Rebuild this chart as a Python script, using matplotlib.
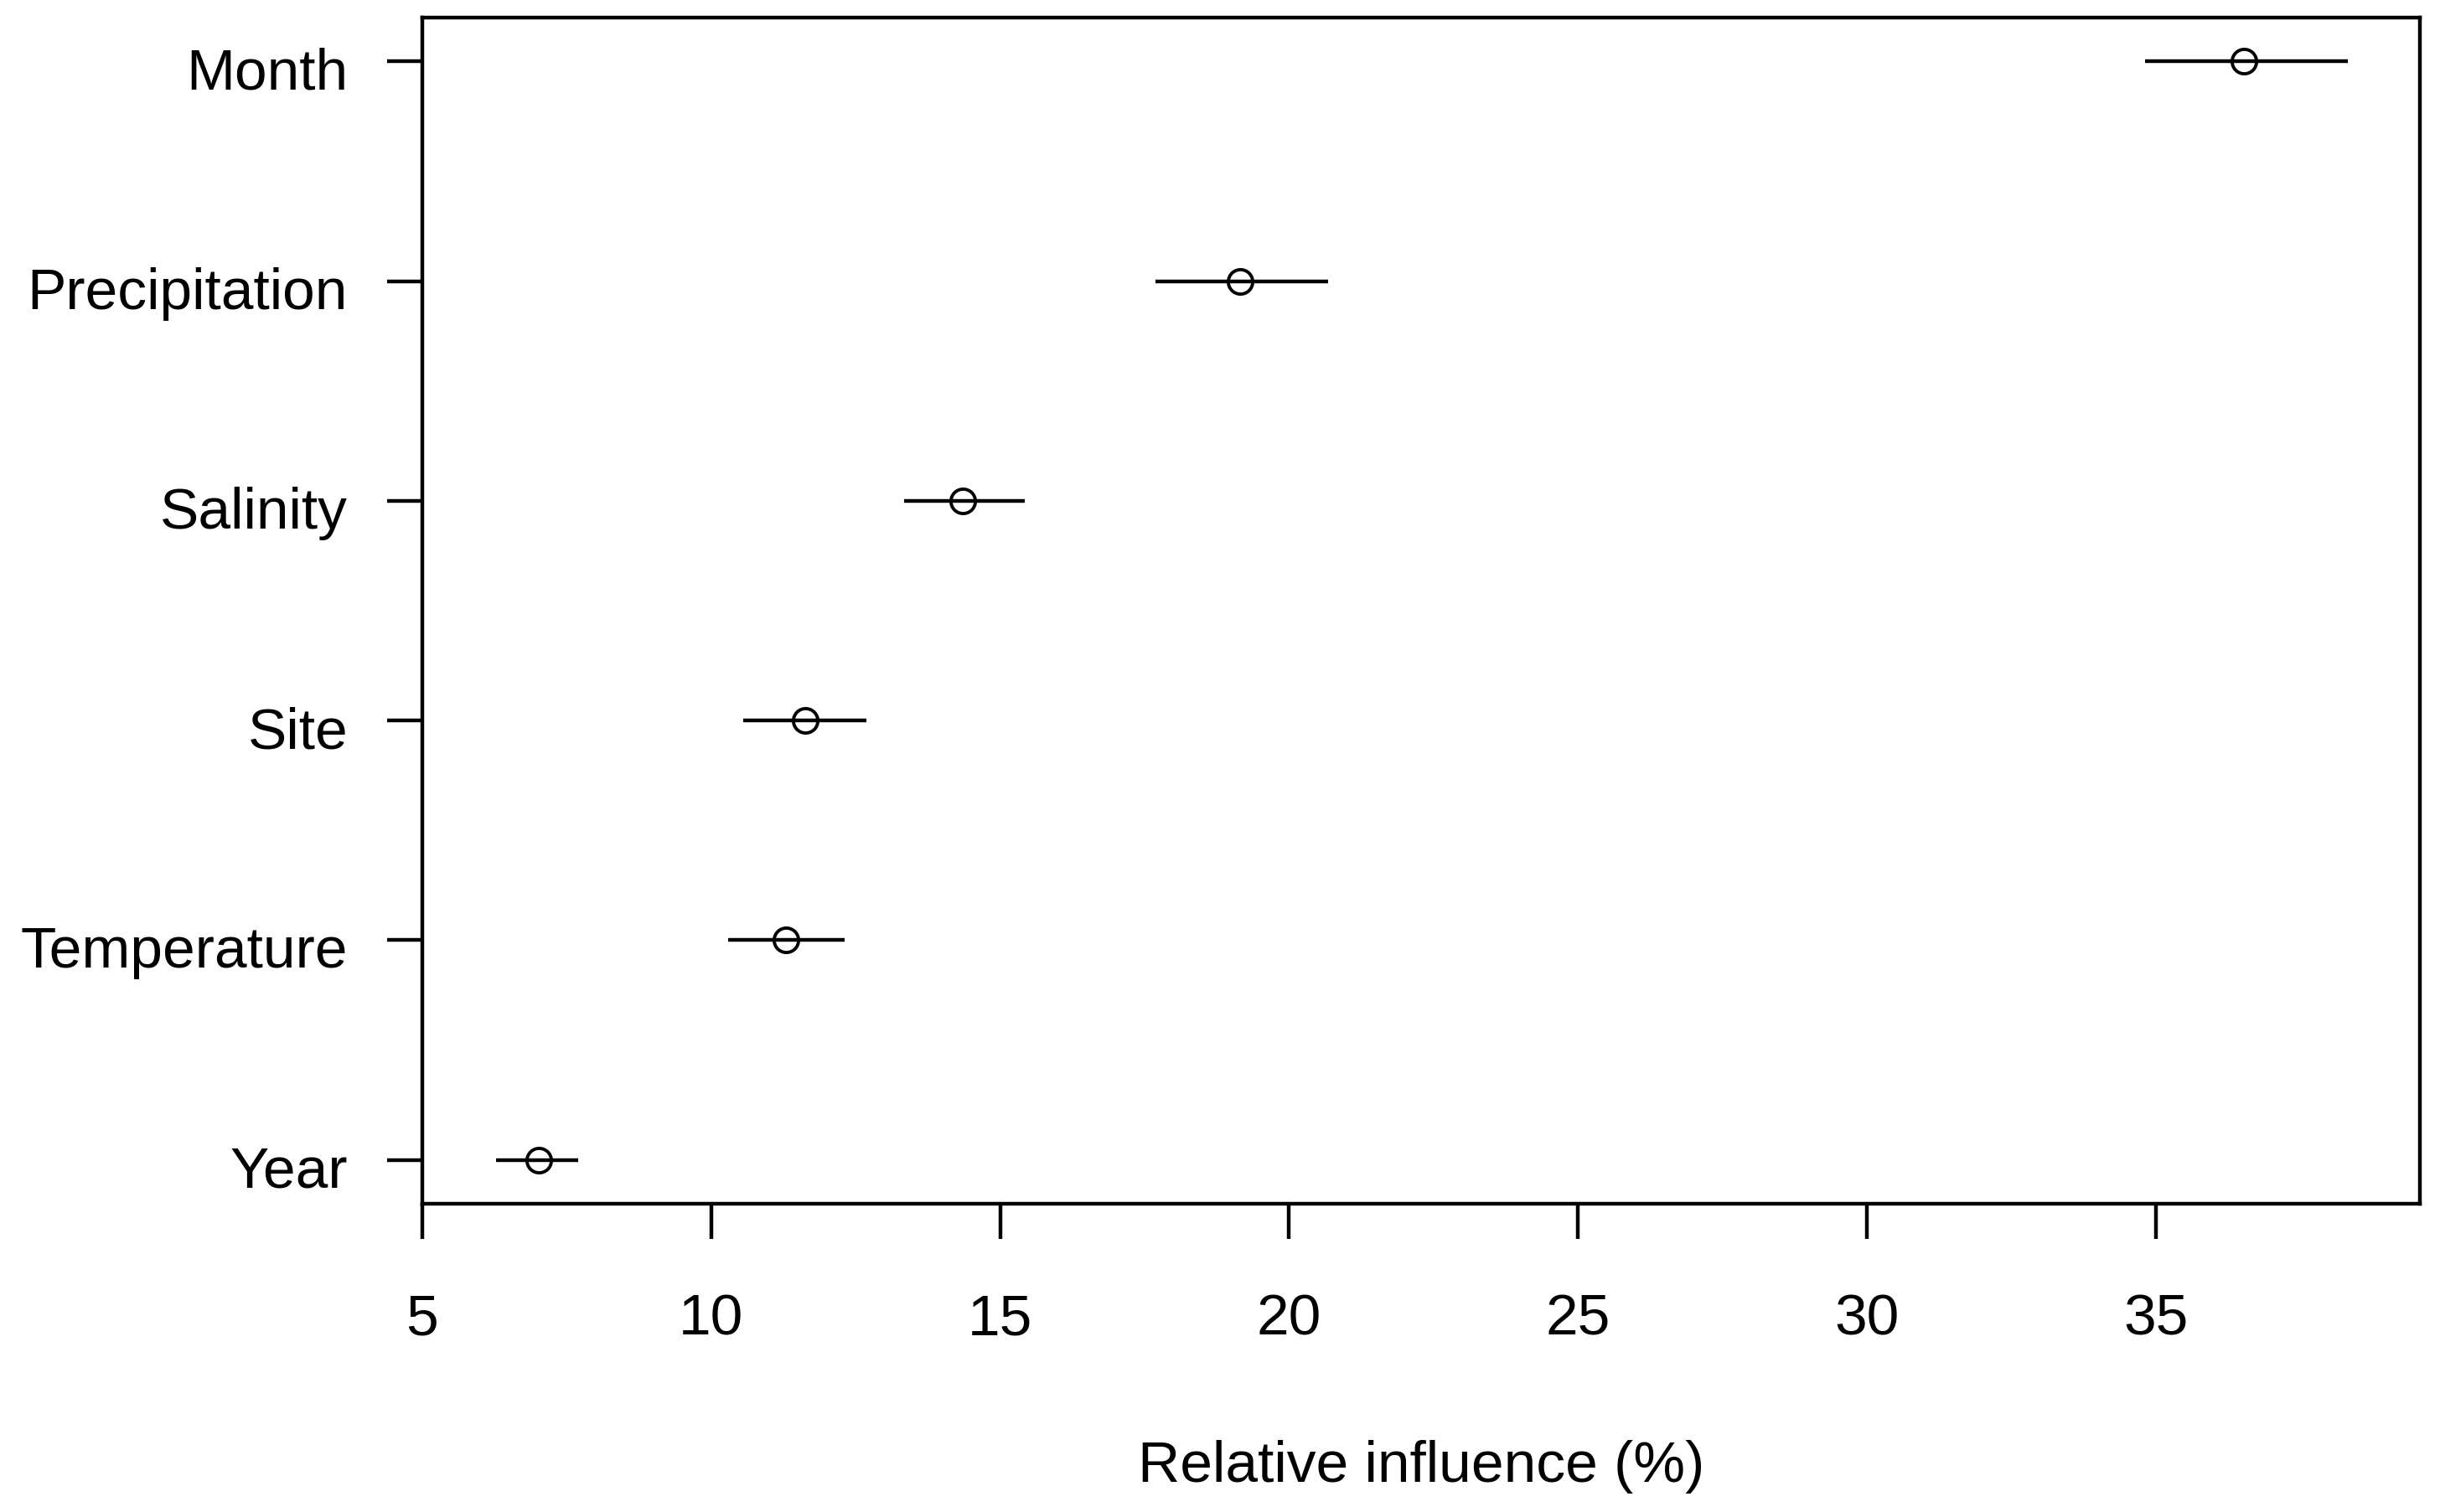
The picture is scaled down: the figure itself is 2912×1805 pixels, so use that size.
import numpy as np
import matplotlib
matplotlib.use("Agg")
import matplotlib.pyplot as plt
from matplotlib.transforms import ScaledTranslation

# relative influence of each predictor, with lower / upper bounds
variables = ['Year', 'Temperature', 'Site', 'Salinity', 'Precipitation', 'Month']
influence = [7.02, 11.29, 11.63, 14.35, 19.15, 36.52]
lower = [6.28, 10.29, 10.55, 13.34, 17.69, 34.81]
upper = [7.70, 12.31, 12.68, 15.43, 20.67, 38.32]
x_ticks = [5, 10, 15, 20, 25, 30, 35]

plt.rcParams['font.family'] = ['Liberation Sans', 'DejaVu Sans']

fig = plt.figure(figsize=(29.12, 18.06), dpi=100)
ax = fig.add_axes([504 / 2912, 1 - 1438 / 1806, (2888 - 504) / 2912, (1438 - 22) / 1806])

ypos = np.arange(1, len(variables) + 1)
infl = np.array(influence)
err = [infl - np.array(lower), np.array(upper) - infl]
ax.errorbar(infl, ypos, xerr=err, fmt='o', color='black', mfc='none', mec='black',
            ms=21, mew=2.8, elinewidth=3.2, capsize=0)

ax.set_xlim(5, 39.57)
ax.set_ylim(0.8, 6.2)
ax.set_xticks(x_ticks)
ax.set_xticklabels([str(t) for t in x_ticks])
ax.set_yticks(ypos)
ax.set_yticklabels(variables)

for sp in ax.spines.values():
    sp.set_linewidth(3.2)
ax.tick_params(axis='both', length=30, width=3.2, labelsize=50, color='black')
ax.tick_params(axis='x', pad=46)
ax.tick_params(axis='y', pad=34)

# R puts the y labels a touch below the tick
shift = ScaledTranslation(0, -0.07, fig.dpi_scale_trans)
for lab in ax.get_yticklabels():
    lab.set_transform(lab.get_transform() + shift)

ax.set_xlabel('Relative influence (%)', fontsize=50, labelpad=80)

fig.savefig('out.png', dpi=100, facecolor='white')
